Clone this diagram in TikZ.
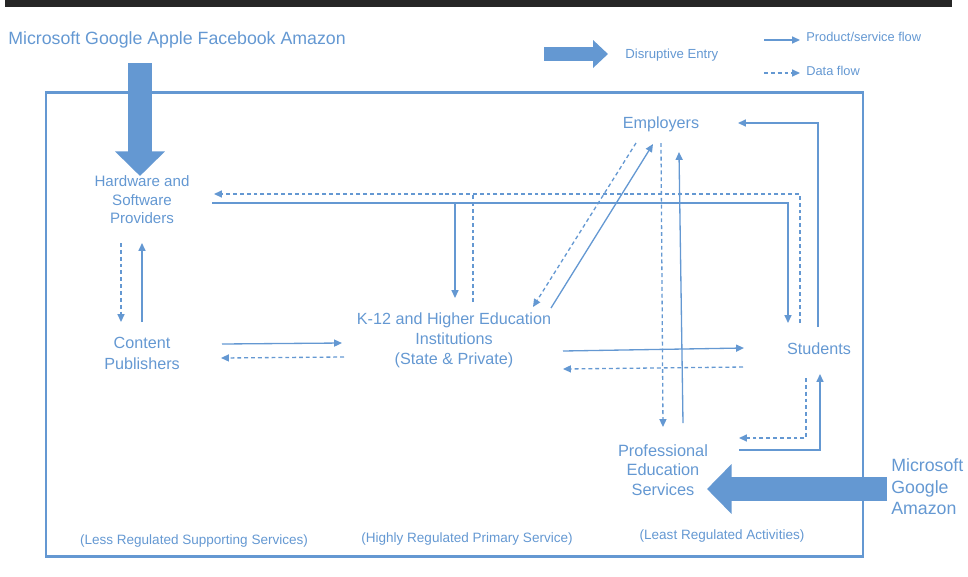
\documentclass[tikz,border=0pt]{standalone}
\usepackage{fontspec}
\setmainfont{Liberation Sans}
\usetikzlibrary{arrows.meta}
\definecolor{flowblue}{RGB}{100,152,210}

\begin{document}
\begin{tikzpicture}[x=0.02cm,y=-0.02cm,
    actor/.style={text=flowblue,align=center,inner sep=0,font=\fontsize{9.2}{11.3}\selectfont},
    note/.style={text=flowblue,inner sep=0,font=\fontsize{7.7}{9}\selectfont},
    firm/.style={text=flowblue,inner sep=0,align=left,font=\fontsize{10.1}{12.2}\selectfont},
    flow/.style={draw=flowblue,line width=0.75pt,-{Triangle[length=4.5pt,width=4pt]}},
    data/.style={flow,dash pattern=on 2.2pt off 1.7pt},
    entry/.style={draw=flowblue,line width=13.4pt,-{Triangle[length=14pt,width=27.6pt]}}]
        \useasboundingbox (0,0) rectangle (968,576);
        \fill[black!85] (5,0) rectangle (952,7);
        \draw[flowblue,line width=1.7pt] (46,92) rectangle (863,556);

        % actors
        \node[actor,font=\fontsize{8.6}{10.5}\selectfont] (hw) at (142,200) {Hardware and\\Software\\Providers};
        \node[actor,font=\fontsize{9.2}{11.9}\selectfont] (cp) at (142,353) {Content\\Publishers};
        \node[actor] (k12) at (454,340) {K-12 and Higher Education\\Institutions\\(State \& Private)};
        \node[actor] (emp) at (661,124) {Employers};
        \node[actor] (st) at (819,349) {Students};
        \node[actor,font=\fontsize{9.3}{11.1}\selectfont] (pes) at (663,470) {Professional\\Education\\Services};

        % entrants
        \node[firm,anchor=west] (gafa) at (8,40) {Microsoft Google Apple Facebook Amazon};
        \node[firm,anchor=west] (mga) at (891,487) {Microsoft\\Google\\Amazon};

        % regulation notes
        \node[note] (less) at (194,541) {(Less Regulated Supporting Services)};
        \node[note] (high) at (467,539) {(Highly Regulated Primary Service)};
        \node[note] (least) at (722,536) {(Least Regulated Activities)};

        % legend
        \node[note,anchor=west,font=\fontsize{7.5}{9}\selectfont] (leg-entry) at (625,55) {Disruptive Entry};
        \node[note,anchor=west,font=\fontsize{7.3}{9}\selectfont] (leg-flow) at (806,37) {Product/service flow};
        \node[note,anchor=west,font=\fontsize{7.3}{9}\selectfont] (leg-data) at (806,71) {Data flow};
        \coordinate (le1) at (544,54); \coordinate (le2) at (608,54);
        \coordinate (lf1) at (764,40); \coordinate (lf2) at (800,40);
        \coordinate (ld1) at (764,73); \coordinate (ld2) at (800,73);
        \draw[draw=flowblue,line width=8.5pt,-{Triangle[length=8.5pt,width=15.4pt]}] (le1) -- (le2);
        \draw[flow] (lf1) -- (lf2);
        \draw[data] (ld1) -- (ld2);

        % connector ends
        \coordinate (gafa-o) at (140,63); \coordinate (hw-i) at (140,176);
        \coordinate (mga-o) at (887,489); \coordinate (pes-i) at (707,489);
        \coordinate (hw-s1) at (121,243); \coordinate (cp-n1) at (121,322);
        \coordinate (cp-n2) at (142,322); \coordinate (hw-s2) at (142,243);
        \coordinate (cp-e1) at (222,344); \coordinate (k12-w1) at (342,343);
        \coordinate (k12-w2) at (344,357); \coordinate (cp-e2) at (221,358);
        \coordinate (hw-e1) at (212,203); \coordinate (st-n1) at (788,323);
        \coordinate (br1) at (455,203); \coordinate (k12-n1) at (455,298);
        \coordinate (st-n2) at (800,323); \coordinate (hw-e2) at (214,194);
        \coordinate (k12-n2) at (473,302); \coordinate (br2) at (473,194);
        \coordinate (k12-ne1) at (551,308); \coordinate (emp-s1) at (653,144);
        \coordinate (emp-s2) at (636,143); \coordinate (k12-ne2) at (533,307);
        \coordinate (emp-s3) at (661,143); \coordinate (pes-n1) at (663,427);
        \coordinate (pes-n2) at (683,423); \coordinate (emp-s4) at (679,152);
        \coordinate (k12-e1) at (563,351); \coordinate (st-w1) at (744,348);
        \coordinate (st-w2) at (743,367); \coordinate (k12-e2) at (563,369);
        \coordinate (st-n3) at (818,327); \coordinate (emp-e) at (738,123);
        \coordinate (pes-e1) at (739,450); \coordinate (st-s1) at (820,374);
        \coordinate (st-s2) at (806,378); \coordinate (pes-e2) at (739,438);

        % disruptive entry
        \draw[entry] (gafa-o) -- (hw-i);
        \draw[entry] (mga-o) -- (pes-i);

        % flows
        \draw[data] (hw-s1) -- (cp-n1);
        \draw[flow] (cp-n2) -- (hw-s2);
        \draw[flow] (cp-e1) -- (k12-w1);
        \draw[data] (k12-w2) -- (cp-e2);
        \draw[flow] (hw-e1) -| (st-n1);
        \draw[flow] (br1) -- (k12-n1);
        \draw[data] (st-n2) |- (hw-e2);
        \draw[data,-] (k12-n2) -- (br2);
        \draw[flow] (k12-ne1) -- (emp-s1);
        \draw[data] (emp-s2) -- (k12-ne2);
        \draw[data] (emp-s3) -- (pes-n1);
        \draw[flow] (pes-n2) -- (emp-s4);
        \draw[flow] (k12-e1) -- (st-w1);
        \draw[data] (st-w2) -- (k12-e2);
        \draw[flow] (st-n3) |- (emp-e);
        \draw[flow] (pes-e1) -| (st-s1);
        \draw[data] (st-s2) |- (pes-e2);
      \end{tikzpicture}
\end{document}
